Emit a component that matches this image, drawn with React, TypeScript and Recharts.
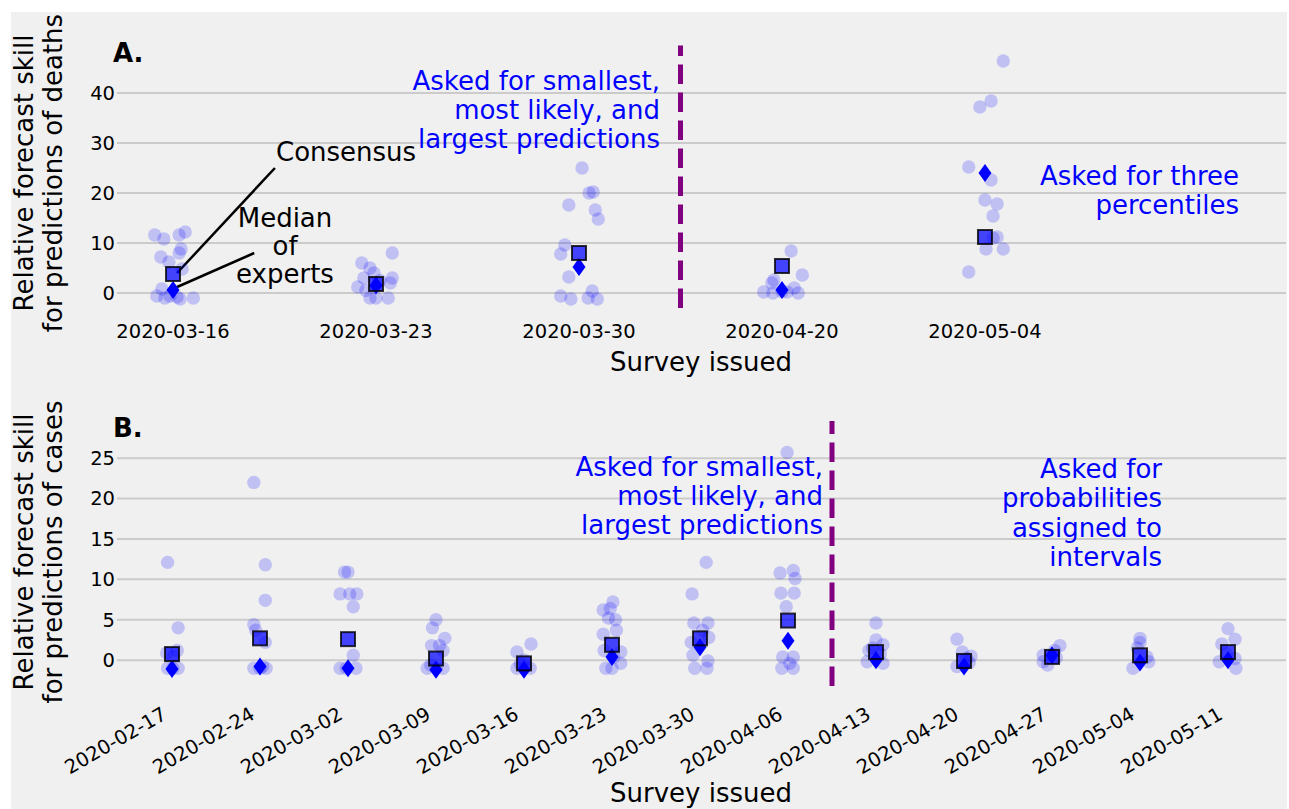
import React from "react";
import {
  ScatterChart,
  Scatter,
  XAxis,
  YAxis,
  CartesianGrid,
  ReferenceLine,
} from "recharts";

const FONT = "DejaVu Sans";
const BLUE = "#0000ff";

// panel A: deaths
const deathDates = ["2020-03-16", "2020-03-23", "2020-03-30", "2020-04-20", "2020-05-04"];
const deathExperts = [
  [11.6, 10.8, 11.6, 12.2, 8.8, 8.0, 7.2, 6.2, 4.8, 0.8, -0.6, -1.0, -1.2, -1.0, -0.6, -0.8],
  [8, 6, 5, 4, 3, 3, 2, 1.2, -1, -1, -1, 2.5, 0.5],
  [25, 20.2, 20, 17.6, 16.6, 14.8, 9.6, 7.8, 3.2, -0.6, -1.2, -1.0, -1.2, 0.4],
  [8.4, 3.6, 2.6, 2.0, 0.2, 1.0, 0.0, 0.2, 0.0, 0.3],
  [46.4, 38.4, 37.2, 25.2, 22.6, 18.6, 17.8, 15.4, 11, 8.8, 8.8, 4.2, 11.2],
];
const deathJitter = [
  [-0.09, -0.045, 0.03, 0.06, 0.04, 0.03, -0.06, -0.02, 0.045, -0.055, -0.08, -0.04, 0.035, 0.1, -0.015, 0.02],
  [0.08, -0.07, -0.03, -0.01, -0.06, 0.08, 0.07, -0.09, -0.03, 0.06, 0.0, 0.02, -0.05],
  [0.015, 0.07, 0.05, -0.05, 0.08, 0.095, -0.07, -0.09, -0.05, -0.09, -0.04, 0.045, 0.09, 0.065],
  [0.045, 0.1, -0.04, -0.05, -0.09, 0.06, 0.08, 0.025, -0.045, 0.0],
  [0.09, 0.03, -0.025, -0.08, 0.03, 0.0, 0.06, 0.04, 0.04, 0.005, 0.09, -0.08, 0.06],
];
const deathConsensus = [3.8, 1.8, 8, 5.4, 11.2];
const deathMedian = [0.6, 1.5, 5.2, 0.6, 24];
const deathTicks = [0, 10, 20, 30, 40];

// panel B: cases
const caseDates = [
  "2020-02-17", "2020-02-24", "2020-03-02", "2020-03-09", "2020-03-16", "2020-03-23", "2020-03-30",
  "2020-04-06", "2020-04-13", "2020-04-20", "2020-04-27", "2020-05-04", "2020-05-11",
];
const caseExperts = [
  [12.1, 4.0, 0.9, 1.2, -1, -1, -1, 0.5],
  [22, 11.8, 7.4, 4.4, 3.7, 2.2, -1, -1, -1, -0.8],
  [10.9, 10.9, 8.2, 8.2, 8.2, 6.6, 0.6, -1, -1, -1],
  [5, 4, 2.7, 1.8, 1.8, 1.2, -1, -1, -1, -0.6],
  [2, 1, 0, -1, -1, -0.8, -0.5],
  [7.2, 6.2, 6.4, 5.2, 5.0, 3.7, 3.2, 1.0, 1.2, -0.4, -1, -1, 0.4],
  [12.1, 8.2, 4.6, 4.6, 3.7, 2.2, 0.6, -0.1, -1, -1, 2.8],
  [25.7, 10.8, 11.1, 10.1, 8.3, 8.3, 6.6, 0.4, 0.4, -1, -1, -0.4],
  [4.6, 2.5, 1.9, 1.2, -0.2, -0.4, 0.8, 1.5],
  [2.6, 1.0, 0.5, -0.8, -0.3, 0.2],
  [1.8, 1.2, 0.6, -0.2, -0.6, 0.3],
  [2.7, 2.2, 0.4, -1, -0.2, 1.5],
  [3.9, 2.6, 2.0, -0.2, -1, 0.2, 0.8],
];
const caseJitter = [
  [-0.05, 0.07, -0.06, 0.06, -0.05, 0.07, 0.01, 0.02],
  [-0.07, 0.06, 0.06, -0.07, -0.05, 0.06, -0.07, 0.07, 0.0, 0.03],
  [-0.04, 0.0, -0.09, 0.02, 0.1, 0.06, 0.06, -0.09, 0.09, -0.02],
  [0.0, -0.04, 0.1, -0.05, 0.04, 0.08, -0.1, 0.08, 0.0, -0.06],
  [0.08, -0.08, 0.0, -0.08, 0.07, 0.02, -0.04],
  [0.01, -0.1, -0.02, -0.04, 0.04, 0.05, -0.1, 0.1, -0.09, 0.1, -0.07, 0.0, 0.02],
  [0.07, -0.09, -0.07, 0.09, 0.03, -0.1, -0.08, 0.09, -0.06, 0.08, 0.1],
  [-0.01, -0.09, 0.06, 0.08, -0.08, 0.07, -0.02, -0.06, 0.06, -0.07, 0.06, 0.02],
  [0.0, 0.0, 0.08, -0.08, -0.1, 0.08, 0.05, -0.04],
  [-0.08, -0.02, 0.08, -0.08, 0.06, 0.03],
  [0.09, 0.03, -0.1, -0.1, -0.05, 0.05],
  [0.0, 0.0, 0.08, -0.08, 0.1, -0.03],
  [0.0, 0.08, -0.07, -0.1, 0.09, 0.08, -0.02],
];
const caseConsensus = [0.75, 2.7, 2.6, 0.2, -0.4, 1.9, 2.7, 4.9, 1.0, -0.1, 0.4, 0.6, 1.0];
const caseMedian = [-1.1, -0.8, -1.0, -1.2, -1.2, 0.4, 1.6, 2.4, 0.0, -0.8, 0.6, -0.3, 0.0];
const caseTicks = [0, 5, 10, 15, 20, 25];

const toPoints = (vals: number[][], jit: number[][]) =>
  vals.flatMap((row, i) => row.map((v, j) => ({ x: i + jit[i][j], y: v })));
const toCenter = (vals: number[]) => vals.map((v, i) => ({ x: i, y: v }));

const Dot = (p: any) => <circle cx={p.cx} cy={p.cy} r={6.7} fill={BLUE} fillOpacity={0.2} />;
const Square = (p: any) => (
  <rect
    x={p.cx - 7}
    y={p.cy - 7}
    width={14}
    height={14}
    fill={BLUE}
    fillOpacity={0.72}
    stroke="#000"
    strokeOpacity={0.8}
    strokeWidth={2}
  />
);
const Diamond = (p: any) => (
  <polygon
    points={`${p.cx},${p.cy - 9} ${p.cx + 6.5},${p.cy} ${p.cx},${p.cy + 9} ${p.cx - 6.5},${p.cy}`}
    fill={BLUE}
  />
);

const YTick = (p: any) => (
  <text x={p.x - 2} y={p.y} dy="0.35em" textAnchor="end" fontFamily={FONT} fontSize={19.5} fill="#000">
    {p.payload.value}
  </text>
);

function Panel(props: {
  width: number;
  height: number;
  top: number;
  bottom: number;
  xDomain: [number, number];
  yDomain: [number, number];
  yTicks: number[];
  dates: string[];
  experts: number[][];
  jitter: number[][];
  consensus: number[];
  median: number[];
  rotate: boolean;
  children?: React.ReactNode;
}) {
  const xTicks = props.dates.map((_, i) => i);
  const XTick = (p: any) =>
    props.rotate ? (
      <text
        transform={`translate(${p.x - 4},${p.y + 32}) rotate(-30)`}
        textAnchor="end"
        fontFamily={FONT}
        fontSize={19.5}
        fill="#000"
      >
        {props.dates[p.payload.value]}
      </text>
    ) : (
      <text x={p.x} y={p.y + 30} textAnchor="middle" fontFamily={FONT} fontSize={19.5} fill="#000">
        {props.dates[p.payload.value]}
      </text>
    );
  return (
    <ScatterChart
      width={props.width}
      height={props.height}
      margin={{ top: props.top, right: 3, bottom: props.bottom, left: 0 }}
    >
      <CartesianGrid
        vertical={false}
        horizontalValues={props.yTicks}
        syncWithTicks
        stroke="#cbcbcb"
        strokeWidth={2}
      />
      <XAxis
        type="number"
        dataKey="x"
        domain={props.xDomain}
        ticks={xTicks}
        allowDataOverflow
        axisLine={false}
        tickLine={false}
        tickSize={0}
        tickMargin={0}
        height={60}
        tick={<XTick />}
        interval={0}
      />
      <YAxis
        type="number"
        dataKey="y"
        domain={props.yDomain}
        ticks={props.yTicks}
        allowDataOverflow
        axisLine={false}
        tickLine={false}
        tickSize={0}
        tickMargin={0}
        width={117}
        tick={<YTick />}
        interval={0}
      />
      {props.children}
      <Scatter data={toPoints(props.experts, props.jitter)} shape={<Dot />} isAnimationActive={false} />
      <Scatter data={toCenter(props.median)} shape={<Diamond />} isAnimationActive={false} />
      <Scatter data={toCenter(props.consensus)} shape={<Square />} isAnimationActive={false} />
    </ScatterChart>
  );
}

const blueText = { fontFamily: FONT, fontSize: 26, fill: BLUE } as const;
const blackText = { fontFamily: FONT, fontSize: 26, fill: "#000" } as const;

export default function App() {
  return (
    <div style={{ position: "absolute", left: 0, top: 0, width: 1289, height: 809, background: "#fff" }}>
      <div style={{ position: "absolute", left: 11, top: 12, width: 1276, height: 797, background: "#f0f0f0" }} />
      <div style={{ position: "absolute", left: 0, top: 0 }}>
        <Panel
          width={1289}
          height={400}
          top={45.5}
          bottom={32}
          xDomain={[-0.276, 5.483]}
          yDomain={[-3, 49.5]}
          yTicks={deathTicks}
          dates={deathDates}
          experts={deathExperts}
          jitter={deathJitter}
          consensus={deathConsensus}
          median={deathMedian}
          rotate={false}
        >
          <ReferenceLine x={2.5} stroke="#800080" strokeWidth={5} strokeDasharray="19.5 8.5" />
          <ReferenceLine
            segment={[{ x: 0.502, y: 25 }, { x: 0.02, y: 4 }]}
            stroke="#000"
            strokeWidth={2.5}
          />
          <ReferenceLine
            segment={[{ x: 0.4, y: 8 }, { x: 0.02, y: 1.2 }]}
            stroke="#000"
            strokeWidth={2.5}
          />
        </Panel>
      </div>
      <div style={{ position: "absolute", left: 0, top: 400 }}>
        <Panel
          width={1289}
          height={409}
          top={21}
          bottom={63}
          xDomain={[-0.625, 12.659]}
          yDomain={[-3.2, 29.6]}
          yTicks={caseTicks}
          dates={caseDates}
          experts={caseExperts}
          jitter={caseJitter}
          consensus={caseConsensus}
          median={caseMedian}
          rotate={true}
        >
          <ReferenceLine x={7.5} stroke="#800080" strokeWidth={5} strokeDasharray="19.5 8.5" />
        </Panel>
      </div>
      <svg
        width={1289}
        height={809}
        style={{ position: "absolute", left: 0, top: 0, pointerEvents: "none" }}
      >
        <text x={113} y={62} fontFamily={FONT} fontSize={26} fontWeight="bold" fill="#000">A.</text>
        <text x={113} y={437} fontFamily={FONT} fontSize={26} fontWeight="bold" fill="#000">B.</text>

        <text transform="translate(33,173) rotate(-90)" textAnchor="middle" {...blackText}>Relative forecast skill</text>
        <text transform="translate(62,173) rotate(-90)" textAnchor="middle" {...blackText}>for predictions of deaths</text>
        <text transform="translate(33,552) rotate(-90)" textAnchor="middle" {...blackText}>Relative forecast skill</text>
        <text transform="translate(62,552) rotate(-90)" textAnchor="middle" {...blackText}>for predictions of cases</text>

        <text x={701} y={371} textAnchor="middle" {...blackText}>Survey issued</text>
        <text x={701} y={802} textAnchor="middle" {...blackText}>Survey issued</text>

        <text x={276} y={161} {...blackText}>Consensus</text>
        <text x={285} y={227} textAnchor="middle" {...blackText}>Median</text>
        <text x={285} y={255} textAnchor="middle" {...blackText}>of</text>
        <text x={285} y={283} textAnchor="middle" {...blackText}>experts</text>

        <text x={660} y={90} textAnchor="end" {...blueText}>Asked for smallest,</text>
        <text x={660} y={119} textAnchor="end" {...blueText}>most likely, and</text>
        <text x={660} y={148} textAnchor="end" {...blueText}>largest predictions</text>

        <text x={1239} y={185} textAnchor="end" {...blueText}>Asked for three</text>
        <text x={1239} y={214} textAnchor="end" {...blueText}>percentiles</text>

        <text x={823} y={476} textAnchor="end" {...blueText}>Asked for smallest,</text>
        <text x={823} y={505} textAnchor="end" {...blueText}>most likely, and</text>
        <text x={823} y={534} textAnchor="end" {...blueText}>largest predictions</text>

        <text x={1162} y={478} textAnchor="end" {...blueText}>Asked for</text>
        <text x={1162} y={507} textAnchor="end" {...blueText}>probabilities</text>
        <text x={1162} y={537} textAnchor="end" {...blueText}>assigned to</text>
        <text x={1162} y={566} textAnchor="end" {...blueText}>intervals</text>
      </svg>
    </div>
  );
}
